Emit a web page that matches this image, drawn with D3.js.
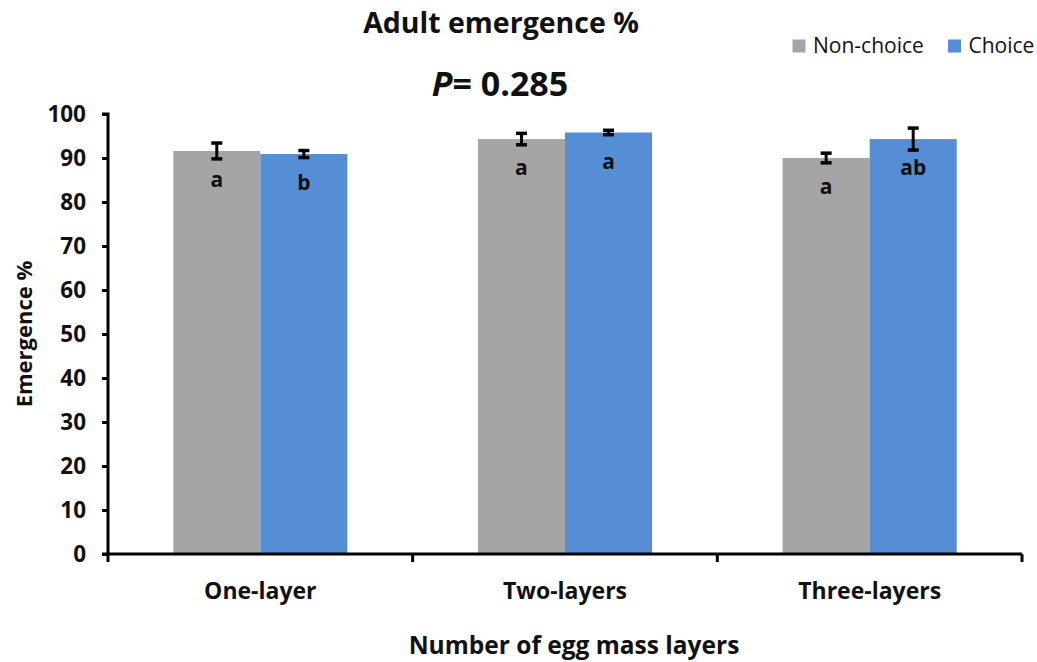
<!DOCTYPE html>
<html>
<head>
<meta charset="utf-8">
<script src="https://cdn.jsdelivr.net/npm/d3@7"></script>
<style>
  body { margin: 0; background: #fff; }
  svg { display: block; font-family: "Open Sans", sans-serif; }
</style>
</head>
<body>
<svg id="chart" width="1037" height="662"></svg>
<script>
// Adult emergence by number of egg mass layers
const categories = ["One-layer", "Two-layers", "Three-layers"];
const seriesNames = ["Non-choice", "Choice"];
const nonChoice = [91.6, 94.3, 90.0];
const choice = [90.9, 95.8, 94.3];
const nonChoiceErr = [1.8, 1.3, 1.1];
const choiceErr = [0.8, 0.5, 2.5];
const nonChoiceLetters = ["a", "a", "a"];
const choiceLetters = ["b", "a", "ab"];
const yTicks = [0, 10, 20, 30, 40, 50, 60, 70, 80, 90, 100];
const colors = ["#A5A5A5", "#558ED5"];

const svg = d3.select("#chart");
const margin = { left: 108, right: 1022, top: 114, bottom: 554 };

const x0 = d3.scaleBand().domain(categories).range([margin.left, margin.right]).paddingInner(0).paddingOuter(0);
const x1 = d3.scaleBand().domain(seriesNames).range([0, x0.bandwidth()]).paddingInner(0).paddingOuter(0.75);
const y = d3.scaleLinear().domain([0, 100]).range([margin.bottom, margin.top]);

const rows = categories.map((c, i) => ({
  cat: c,
  vals: [
    { s: seriesNames[0], v: nonChoice[i], e: nonChoiceErr[i], l: nonChoiceLetters[i], col: colors[0] },
    { s: seriesNames[1], v: choice[i], e: choiceErr[i], l: choiceLetters[i], col: colors[1] }
  ]
}));

// Bars
const g = svg.append("g");
const groups = g.selectAll("g.cat").data(rows).join("g")
  .attr("transform", d => `translate(${x0(d.cat)},0)`);

groups.selectAll("rect").data(d => d.vals).join("rect")
  .attr("x", d => x1(d.s))
  .attr("width", x1.bandwidth())
  .attr("y", d => y(d.v))
  .attr("height", d => y(0) - y(d.v))
  .attr("fill", d => d.col);

// Error bars
const eb = groups.selectAll("g.err").data(d => d.vals).join("g").attr("class", "err");
eb.append("line")
  .attr("x1", d => x1(d.s) + x1.bandwidth() / 2)
  .attr("x2", d => x1(d.s) + x1.bandwidth() / 2)
  .attr("y1", d => y(d.v + d.e))
  .attr("y2", d => y(d.v - d.e))
  .attr("stroke", "#000").attr("stroke-width", 3);
[1, -1].forEach(sign => {
  eb.append("line")
    .attr("x1", d => x1(d.s) + x1.bandwidth() / 2 - 5.5)
    .attr("x2", d => x1(d.s) + x1.bandwidth() / 2 + 5.5)
    .attr("y1", d => y(d.v + sign * d.e))
    .attr("y2", d => y(d.v + sign * d.e))
    .attr("stroke", "#000").attr("stroke-width", 3.5);
});

// Significance letters
groups.selectAll("text.letter").data(d => d.vals).join("text")
  .attr("class", "letter")
  .attr("x", d => x1(d.s) + x1.bandwidth() / 2)
  .attr("y", d => y(d.v) + 29)
  .attr("dy", "0.35em")
  .attr("text-anchor", "middle")
  .attr("font-weight", "bold")
  .attr("font-size", 21)
  .attr("fill", "#111")
  .text(d => d.l);

// Y axis
const yAxis = d3.axisLeft(y).tickValues(yTicks).tickSize(6).tickPadding(16);
const ya = svg.append("g").attr("transform", `translate(${margin.left},0)`).call(yAxis);
ya.select(".domain").attr("stroke", "#000").attr("stroke-width", 3).attr("d", `M-6,${margin.top}H0V${margin.bottom}`);
ya.selectAll(".tick line").attr("stroke", "#000").attr("stroke-width", 3);
ya.selectAll(".tick text").attr("font-size", 22.5).attr("font-weight", "bold").attr("fill", "#111")
  .attr("font-family", "'Open Sans', sans-serif");

// X axis with boundary ticks
const xa = svg.append("g").attr("transform", `translate(0,${margin.bottom})`);
xa.append("line").attr("x1", margin.left - 6).attr("x2", margin.right).attr("y1", 0).attr("y2", 0)
  .attr("stroke", "#000").attr("stroke-width", 3);
const bounds = categories.map(c => x0(c)).concat([x0(categories[categories.length - 1]) + x0.bandwidth()]);
xa.selectAll("line.bt").data(bounds).join("line").attr("class", "bt")
  .attr("x1", d => d).attr("x2", d => d).attr("y1", 0).attr("y2", 8)
  .attr("stroke", "#000").attr("stroke-width", 3);
xa.selectAll("text.cat").data(categories).join("text").attr("class", "cat")
  .attr("x", d => x0(d) + x0.bandwidth() / 2)
  .attr("y", 37)
  .attr("dy", "0.35em")
  .attr("text-anchor", "middle")
  .attr("font-weight", "bold").attr("font-size", 23).attr("fill", "#111")
  .text(d => d);

// Titles
svg.append("text").attr("x", 501).attr("y", 33).attr("text-anchor", "middle")
  .attr("font-weight", "bold").attr("font-size", 28.5).attr("fill", "#111").text("Adult emergence %");
const pt = svg.append("text").attr("x", 500).attr("y", 96).attr("text-anchor", "middle")
  .attr("font-weight", "bold").attr("font-size", 34).attr("fill", "#111");
pt.append("tspan").attr("font-style", "italic").text("P");
pt.append("tspan").text("= 0.285");

svg.append("text").attr("x", 574).attr("y", 654).attr("text-anchor", "middle")
  .attr("font-weight", "bold").attr("font-size", 24.5).attr("fill", "#111").text("Number of egg mass layers");
svg.append("text").attr("transform", "translate(32,334) rotate(-90)").attr("text-anchor", "middle")
  .attr("font-weight", "bold").attr("font-size", 22).attr("fill", "#111").text("Emergence %");

// Legend
const legendX = [792.5, 948];
const lg = svg.append("g").selectAll("g").data(seriesNames).join("g")
  .attr("transform", (d, i) => `translate(${legendX[i]},39.5)`);
lg.append("rect").attr("width", 13).attr("height", 13).attr("fill", (d, i) => colors[i]);
lg.append("text").attr("x", 20.5).attr("y", 6.5).attr("dy", "0.35em")
  .attr("font-size", 21).attr("fill", "#111").text(d => d);
</script>
</body>
</html>
